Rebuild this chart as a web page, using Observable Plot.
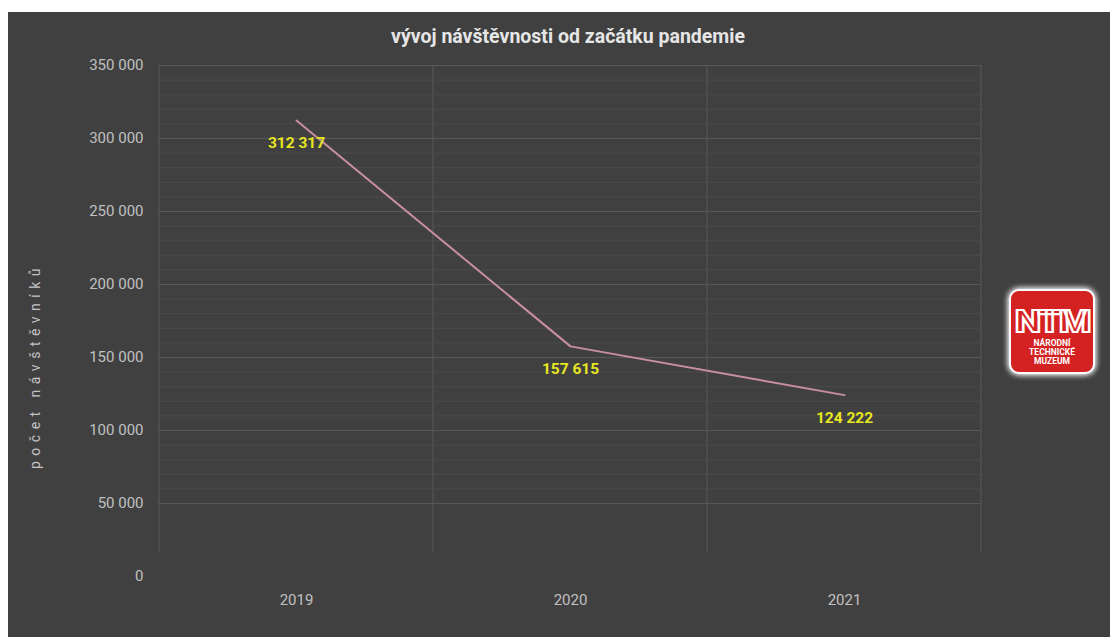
<!DOCTYPE html>
<html>
<head>
<meta charset="utf-8">
<script src="https://cdn.jsdelivr.net/npm/d3@7"></script>
<script src="https://cdn.jsdelivr.net/npm/@observablehq/plot@0.6"></script>
<style>
  html, body { margin: 0; padding: 0; background: #ffffff; width: 1110px; height: 637px; overflow: hidden; }
  #panel { position: absolute; left: 8px; top: 12px; width: 1102px; height: 625px; background: #404040; }
  #title { position: absolute; left: 0; top: 13px; width: 1120px; text-align: center; color: #e6e6e6;
           font: bold 19.5px Roboto, "Noto Sans", sans-serif; }
  #chart { position: absolute; left: 0; top: 43px; }
  #logo { position: absolute; left: 986px; top: 264px; }
</style>
</head>
<body>
<div id="panel">
  <div id="title">vývoj návštěvnosti od začátku pandemie</div>
  <div id="chart"></div>
  <svg id="logo" width="114" height="112" viewBox="0 0 114 112">
    <defs>
      <filter id="glow" x="-30%" y="-30%" width="160%" height="160%">
        <feGaussianBlur stdDeviation="3" in="SourceAlpha" result="b"/>
        <feFlood flood-color="#ffffff" flood-opacity="0.9"/>
        <feComposite in2="b" operator="in" result="g"/>
        <feMerge><feMergeNode in="g"/><feMergeNode in="g"/><feMergeNode in="SourceGraphic"/></feMerge>
      </filter>
    </defs>
    <rect x="16" y="14" width="84" height="83" rx="9" fill="#d42222" stroke="#ffffff" stroke-width="2" filter="url(#glow)"/>
    <text x="58" y="56" text-anchor="middle" font-family="Roboto, sans-serif" font-weight="900" font-size="32"
          fill="#d42222" stroke="#ffffff" stroke-width="2.2" letter-spacing="-2" transform="translate(58 0) scale(1.15 1) translate(-58 0)">NTM</text>
    <g font-family="Roboto, sans-serif" font-weight="bold" font-size="8.5" fill="#ffffff" text-anchor="middle">
      <text x="58" y="70">NÁRODNÍ</text>
      <text x="58" y="79">TECHNICKÉ</text>
      <text x="58" y="88">MUZEUM</text>
    </g>
  </svg>
</div>
<script>
const years = ["2019", "2020", "2021"];
const visitors = [312317, 157615, 124222];
const yTicks = [0, 50000, 100000, 150000, 200000, 250000, 300000, 350000];
const yMinor = d3.range(10000, 350000, 10000).filter(v => v % 50000 !== 0);
const yLabel = "počet návštěvníků";
const chartTitle = "vývoj návštěvnosti od začátku pandemie";

const data = years.map((y, i) => ({year: y, value: visitors[i]}));
const loc = d3.formatLocale({decimal: ",", thousands: "\u00a0", grouping: [3], currency: ["", " Kč"]});
const fmt = loc.format(",");

const W = 1102, H = 582;

const plot = Plot.plot({
  width: W,
  height: H,
  marginLeft: 150,
  marginRight: 129,
  marginTop: 10,
  marginBottom: 61,
  style: {background: "transparent", color: "#bfbfbf", fontFamily: "Roboto, 'Noto Sans', sans-serif", fontSize: "15px"},
  x: {type: "band", domain: years, padding: 0, label: null},
  y: {domain: [0, 350000], label: null},
  marks: [
    Plot.ruleY(yMinor.filter(v => v >= 50000), {stroke: "#4b4b4b", strokeWidth: 1}),
    Plot.ruleY(yTicks.filter(v => v >= 50000), {stroke: "#585858", strokeWidth: 1.2}),
    Plot.axisY({ticks: yTicks, tickFormat: fmt, tickSize: 0, tickPadding: 15, fill: "#c0c0c0", fontSize: 15}),
    Plot.axisX({tickSize: 0, tickPadding: 18, fill: "#c0c0c0", fontSize: 15}),
    Plot.line(data, {x: "year", y: "value", stroke: "#c8909f", strokeWidth: 2}),
    Plot.text(data, {x: "year", y: "value", text: d => fmt(d.value), dy: 23, fill: "#e6e620",
                     fontWeight: "bold", fontSize: 15.5}),
    Plot.text([yLabel], {frameAnchor: "left", textAnchor: "middle", dx: -123, dy: 45, rotate: -90,
                         fill: "#c4c4c4", fontSize: 14})
  ]
});

const xs = plot.scale("x");
const ys = plot.scale("y");
document.getElementById("chart").appendChild(plot);
const svg = d3.select(plot);
const edgesPx = years.map(y => xs.apply(y)).concat([xs.apply(years[years.length - 1]) + xs.bandwidth]);
svg.insert("g", ":first-child")
  .selectAll("line").data(edgesPx).join("line")
  .attr("x1", d => d).attr("x2", d => d)
  .attr("y1", ys.apply(350000)).attr("y2", ys.apply(16000))
  .attr("stroke", "#555555").attr("stroke-width", 1.2);
svg.selectAll("text").filter(function() { return this.textContent === yLabel; })
  .attr("letter-spacing", "5.5px");
</script>
</body>
</html>
